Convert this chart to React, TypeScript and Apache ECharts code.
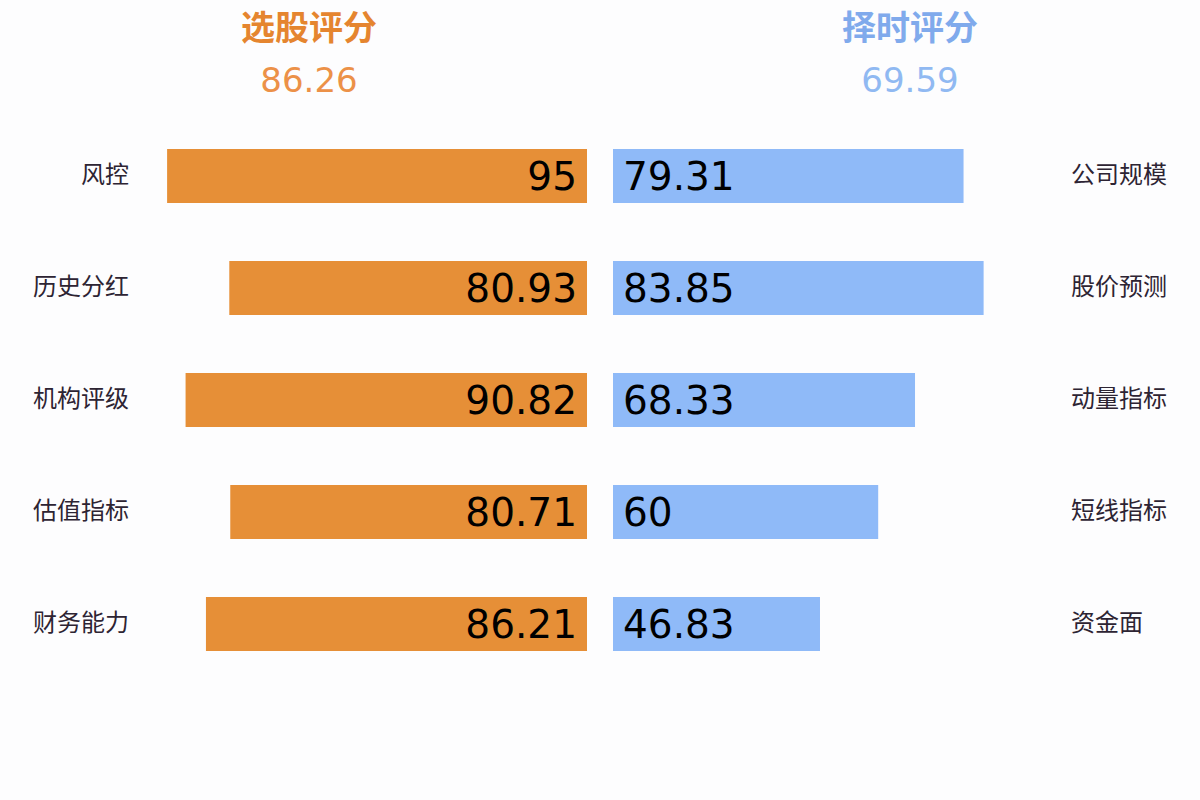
import { useEffect, useRef } from "react"
import * as echarts from "echarts"

const leftCategories = ["风控", "历史分红", "机构评级", "估值指标", "财务能力"]
const leftValues = [95, 80.93, 90.82, 80.71, 86.21]
const rightCategories = ["公司规模", "股价预测", "动量指标", "短线指标", "资金面"]
const rightValues = [79.31, 83.85, 68.33, 60, 46.83]
const leftTitle = "选股评分"
const leftScore = "86.26"
const rightTitle = "择时评分"
const rightScore = "69.59"

const ORANGE = "#e68f37"
const BLUE = "#8fbaf8"
const NUM_FONT = "'DejaVu Sans', 'Noto Sans CJK SC', sans-serif"
const CJK_FONT = "'Noto Sans CJK SC', 'DejaVu Sans', sans-serif"

export default function App() {
  const chartRef = useRef<HTMLDivElement>(null)

  useEffect(() => {
    if (!chartRef.current) return
    const chart = echarts.init(chartRef.current, undefined, { renderer: "svg" })

    // labels sit a little above the bar centre in the reference
    const catLabel = {
      fontFamily: CJK_FONT,
      fontSize: 24,
      color: "#2d2433",
      margin: 16,
      lineHeight: 8,
      verticalAlign: "bottom",
    }

    const barLabel = {
      show: true,
      distance: 10,
      color: "#000",
      fontSize: 39,
      fontFamily: NUM_FONT,
    }

    chart.setOption({
      animation: false,
      backgroundColor: "#fdfdfe",
      grid: [
        { left: 145, right: 613, top: 120, bottom: 120 },
        { left: 613, right: 145, top: 120, bottom: 120 },
      ],
      xAxis: [
        { type: "value", gridIndex: 0, min: 0, max: 100, inverse: true, show: false },
        { type: "value", gridIndex: 1, min: 0, max: 100, show: false },
      ],
      yAxis: [
        {
          type: "category",
          gridIndex: 0,
          data: leftCategories,
          inverse: true,
          position: "left",
          axisLine: { show: false },
          axisTick: { show: false },
          axisLabel: { ...catLabel, align: "right" },
        },
        {
          type: "category",
          gridIndex: 1,
          data: rightCategories,
          inverse: true,
          position: "right",
          axisLine: { show: false },
          axisTick: { show: false },
          axisLabel: { ...catLabel, align: "left" },
        },
      ],
      series: [
        {
          type: "bar",
          xAxisIndex: 0,
          yAxisIndex: 0,
          data: leftValues,
          barWidth: 54,
          itemStyle: { color: ORANGE },
          label: { ...barLabel, position: "insideRight" },
        },
        {
          type: "bar",
          xAxisIndex: 1,
          yAxisIndex: 1,
          data: rightValues,
          barWidth: 54,
          itemStyle: { color: BLUE },
          label: { ...barLabel, position: "insideLeft" },
        },
      ],
      graphic: [
        {
          type: "text",
          x: 309,
          y: 25,
          style: {
            text: leftTitle,
            align: "center",
            verticalAlign: "middle",
            fill: "#e5852f",
            fontSize: 34,
            fontWeight: "bold",
            fontFamily: CJK_FONT,
          },
        },
        {
          type: "text",
          x: 309,
          y: 80,
          style: {
            text: leftScore,
            align: "center",
            verticalAlign: "middle",
            fill: "#ec9148",
            fontSize: 34,
            fontFamily: NUM_FONT,
          },
        },
        {
          type: "text",
          x: 910,
          y: 25,
          style: {
            text: rightTitle,
            align: "center",
            verticalAlign: "middle",
            fill: "#80aaec",
            fontSize: 34,
            fontWeight: "bold",
            fontFamily: CJK_FONT,
          },
        },
        {
          type: "text",
          x: 910,
          y: 80,
          style: {
            text: rightScore,
            align: "center",
            verticalAlign: "middle",
            fill: "#90b9f2",
            fontSize: 34,
            fontFamily: NUM_FONT,
          },
        },
      ],
    })

    return () => chart.dispose()
  }, [])

  return (
    <div
      ref={chartRef}
      style={{ position: "fixed", left: 0, top: 0, width: 1200, height: 800 }}
    />
  )
}
